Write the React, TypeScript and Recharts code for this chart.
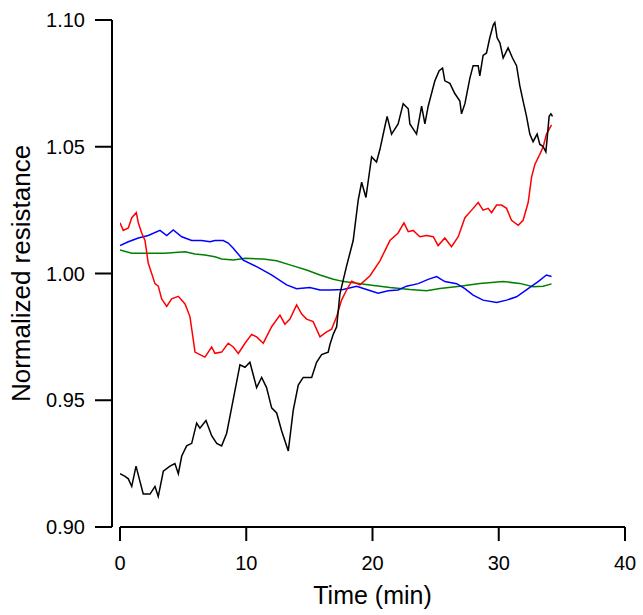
import React from 'react';
import { LineChart, Line, XAxis, YAxis } from 'recharts';

// Axis ticks
const xTicks = [0, 10, 20, 30, 40];
const yTicks = [0.9, 0.95, 1.0, 1.05, 1.1];

// Black trace (time in min, normalized resistance)
const blackTime = [
  0, 0.4, 0.66, 0.93, 1.27, 1.58, 1.84, 2.38, 2.77, 3.03, 3.43, 3.96, 4.35, 4.62, 4.89, 5.28,
  5.68, 6.07, 6.33, 6.81, 7.26, 7.66, 8.05, 8.45, 8.84, 9.5, 9.9, 10.29, 10.82, 11.22, 11.61,
  12.01, 12.41, 12.8, 13.06, 13.33, 13.72, 14.12, 14.51, 15.18, 15.57, 15.97, 16.49, 16.63,
  16.89, 17.16, 17.42, 17.95, 18.47, 18.87, 19.14, 19.48, 19.93, 20.32, 20.59, 20.98, 21.16,
  21.51, 22.03, 22.43, 22.83, 22.96, 23.49, 23.89, 24.15, 24.41, 24.94, 25.28, 25.55, 25.73,
  26.13, 26.52, 26.92, 27.05, 27.32, 27.71, 27.97, 28.37, 28.5, 28.76, 29.03, 29.29, 29.56,
  29.69, 29.87, 30.09, 30.35, 30.74, 31.09, 31.41, 31.67, 31.93, 32.2, 32.46, 32.72, 33.04,
  33.25, 33.52, 33.73, 33.83, 33.99, 34.13, 34.26,
];
const blackValue = [
  0.921, 0.92, 0.919, 0.916, 0.924, 0.918, 0.913, 0.913, 0.916, 0.912, 0.922, 0.924, 0.925,
  0.921, 0.928, 0.932, 0.933, 0.941, 0.939, 0.942, 0.936, 0.933, 0.932, 0.937, 0.947, 0.964,
  0.963, 0.965, 0.955, 0.959, 0.955, 0.947, 0.945, 0.938, 0.934, 0.93, 0.946, 0.956, 0.959,
  0.959, 0.965, 0.968, 0.969, 0.972, 0.976, 0.979, 0.992, 1.003, 1.013, 1.029, 1.036, 1.03,
  1.046, 1.044, 1.049, 1.058, 1.062, 1.055, 1.059, 1.067, 1.065, 1.059, 1.055, 1.066, 1.059,
  1.066, 1.076, 1.08, 1.081, 1.076, 1.075, 1.071, 1.068, 1.063, 1.067, 1.077, 1.082, 1.082,
  1.078, 1.086, 1.087, 1.093, 1.098, 1.099, 1.093, 1.091, 1.085, 1.089, 1.085, 1.082, 1.074,
  1.068, 1.062, 1.055, 1.052, 1.055, 1.051, 1.05, 1.048, 1.053, 1.062, 1.063, 1.062,
];

// Red trace
const redTime = [
  0, 0.26, 0.66, 0.93, 1.29, 1.45, 1.72, 1.98, 2.24, 2.51, 2.77, 3.03, 3.3, 3.7, 4.09, 4.62,
  5.15, 5.54, 5.8, 5.94, 6.33, 6.73, 7.26, 7.52, 8.05, 8.57, 8.97, 9.37, 9.9, 10.43, 10.82,
  11.35, 12.01, 12.67, 13.06, 13.46, 13.99, 14.39, 14.78, 15.3, 15.84, 16.37, 16.76, 17.16,
  17.55, 17.95, 18.35, 19.0, 19.79, 20.59, 21.38, 22.03, 22.49, 22.83, 23.22, 23.75, 24.28,
  24.81, 25.2, 25.73, 26.26, 26.79, 27.32, 27.85, 28.37, 28.76, 29.16, 29.43, 29.83, 30.22,
  30.62, 31.01, 31.54, 31.93, 32.33, 32.6, 32.86, 33.25, 33.52, 33.78, 34.18,
];
const redValue = [
  1.02, 1.017, 1.018, 1.022, 1.024, 1.02, 1.016, 1.013, 1.004, 1.0, 0.996, 0.995, 0.99, 0.987,
  0.99, 0.991, 0.988, 0.983, 0.974, 0.969, 0.968, 0.967, 0.971, 0.9685, 0.969, 0.9725, 0.971,
  0.9685, 0.9725, 0.976, 0.975, 0.9725, 0.979, 0.9836, 0.98, 0.982, 0.9876, 0.984, 0.982,
  0.981, 0.975, 0.977, 0.978, 0.983, 0.9895, 0.9935, 0.997, 0.9955, 0.999, 1.005, 1.013,
  1.016, 1.02, 1.0165, 1.017, 1.0145, 1.015, 1.0145, 1.011, 1.014, 1.0106, 1.0145, 1.022,
  1.025, 1.028, 1.025, 1.0257, 1.024, 1.027, 1.027, 1.0257, 1.021, 1.019, 1.021, 1.028, 1.038,
  1.043, 1.047, 1.05, 1.055, 1.0586,
];

// Blue trace
const blueTime = [
  0, 0.66, 1.45, 2.24, 3.17, 3.7, 4.22, 4.89, 5.68, 6.47, 7.13, 7.52, 8.18, 8.57, 8.97, 9.76,
  10.82, 12.0, 13.2, 13.99, 15.04, 15.84, 16.63, 17.68, 18.74, 19.53, 20.45, 21.24, 22.03,
  22.7, 23.62, 24.41, 25.08, 25.73, 26.66, 27.32, 27.97, 28.76, 29.83, 30.62, 31.41, 32.33,
  33.12, 33.78, 34.18,
];
const blueValue = [
  1.011, 1.0125, 1.014, 1.015, 1.017, 1.015, 1.0172, 1.0145, 1.013, 1.013, 1.0125, 1.013,
  1.013, 1.012, 1.01, 1.0053, 1.0027, 0.9995, 0.9955, 0.994, 0.9945, 0.9935, 0.9935, 0.9937,
  0.995, 0.9937, 0.9922, 0.9932, 0.9935, 0.995, 0.996, 0.9977, 0.9988, 0.9968, 0.996, 0.994,
  0.9915, 0.9895, 0.9886, 0.9895, 0.9908, 0.994, 0.9968, 0.9994, 0.9988,
];

// Green trace
const greenTime = [
  0, 0.93, 2.24, 3.56, 5.15, 5.94, 6.73, 7.52, 8.05, 8.97, 9.94, 11.34, 12.4, 13.46, 14.78,
  15.84, 16.9, 17.73, 19.79, 21.38, 22.96, 24.28, 25.34, 26.92, 28.5, 30.35, 31.67, 32.72,
  33.52, 34.18,
];
const greenValue = [
  1.0093, 1.008, 1.008, 1.008, 1.0086, 1.0077, 1.0073, 1.0066, 1.0057, 1.0053, 1.006, 1.0057,
  1.005, 1.0034, 1.0014, 0.9994, 0.9977, 0.9968, 0.9955, 0.9945, 0.9937, 0.9932, 0.9941, 0.995,
  0.9961, 0.9968, 0.9961, 0.9948, 0.995, 0.9959,
];

const toPoints = (time: number[], value: number[]) =>
  time.map((t, i) => ({ t, v: value[i] }));

const blackData = toPoints(blackTime, blackValue);
const redData = toPoints(redTime, redValue);
const blueData = toPoints(blueTime, blueValue);
const greenData = toPoints(greenTime, greenValue);

const font = '"Liberation Sans", Arial, sans-serif';

const App: React.FC = () => {
  return (
    <div style={{ position: 'absolute', left: 0, top: 0, background: '#fff' }}>
      <LineChart
        width={643}
        height={615}
        margin={{ top: 20, right: 18, left: 0, bottom: 0 }}
      >
        <XAxis
          dataKey="t"
          type="number"
          domain={[0, 40]}
          ticks={xTicks}
          allowDataOverflow
          height={88}
          axisLine={{ stroke: '#000', strokeWidth: 2 }}
          tickLine={{ stroke: '#000', strokeWidth: 2 }}
          tickSize={14}
          tickMargin={15}
          tick={{ fill: '#000', fontSize: 20, fontFamily: font }}
          label={{
            value: 'Time (min)',
            position: 'insideBottom',
            offset: 11,
            style: { fill: '#000', fontSize: 25, fontFamily: font },
          }}
        />
        <YAxis
          dataKey="v"
          type="number"
          domain={[0.9, 1.1]}
          ticks={yTicks}
          allowDataOverflow
          width={120}
          tickFormatter={(v: number) => v.toFixed(2)}
          axisLine={{ stroke: '#000', strokeWidth: 2, transform: 'translate(-8 0)' }}
          tickLine={{ stroke: '#000', strokeWidth: 2, transform: 'translate(-8 0)' }}
          tickSize={17}
          tickMargin={18}
          tick={{ fill: '#000', fontSize: 20, fontFamily: font }}
          label={{
            value: 'Normalized resistance',
            angle: -90,
            position: 'insideLeft',
            offset: 21,
            style: { fill: '#000', fontSize: 26, fontFamily: font, textAnchor: 'middle' },
          }}
        />
        <Line data={greenData} dataKey="v" stroke="#008000" strokeWidth={1.5} dot={false} isAnimationActive={false} />
        <Line data={blueData} dataKey="v" stroke="#0000ff" strokeWidth={1.5} dot={false} isAnimationActive={false} />
        <Line data={redData} dataKey="v" stroke="#ff0000" strokeWidth={1.5} dot={false} isAnimationActive={false} />
        <Line data={blackData} dataKey="v" stroke="#000000" strokeWidth={1.5} dot={false} isAnimationActive={false} />
      </LineChart>
    </div>
  );
};

export default App;
